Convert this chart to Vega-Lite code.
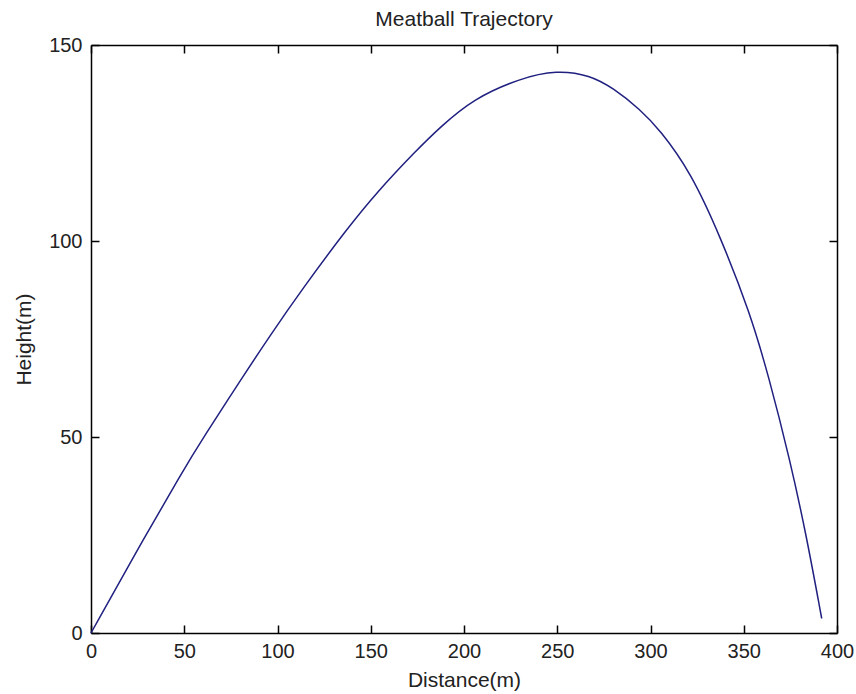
{
  "$schema": "https://vega.github.io/schema/vega-lite/v6.json",
  "width": 746,
  "height": 588,
  "autosize": {"type": "none"},
  "padding": {"left": 91, "top": 45, "right": 19, "bottom": 61},
  "background": "white",
  "title": {
    "text": "Meatball Trajectory",
    "font": "Liberation Sans",
    "fontSize": 21,
    "fontWeight": "normal",
    "color": "#222222",
    "anchor": "middle",
    "baseline": "alphabetic",
    "offset": -12
  },
  "data": {
    "values": [
      {"distance": 0, "height": 0},
      {"distance": 22.7, "height": 19.4},
      {"distance": 49.5, "height": 41.6},
      {"distance": 60.2, "height": 49.8},
      {"distance": 79.9, "height": 64.3},
      {"distance": 96, "height": 75.9},
      {"distance": 113.8, "height": 88.1},
      {"distance": 137.1, "height": 103.0},
      {"distance": 153.2, "height": 112.4},
      {"distance": 174.6, "height": 123.2},
      {"distance": 187.1, "height": 129.0},
      {"distance": 205, "height": 136.3},
      {"distance": 230, "height": 141.5},
      {"distance": 249.7, "height": 143.6},
      {"distance": 267.6, "height": 142.3},
      {"distance": 280, "height": 139.0},
      {"distance": 294.4, "height": 133.6},
      {"distance": 305.1, "height": 128.3},
      {"distance": 321.5, "height": 117.6},
      {"distance": 337.3, "height": 101.3},
      {"distance": 353.4, "height": 81.6},
      {"distance": 363.2, "height": 65.8},
      {"distance": 374.8, "height": 44.1},
      {"distance": 383.7, "height": 24.6},
      {"distance": 391.8, "height": 3.7}
    ]
  },
  "config": {
    "view": {"stroke": null},
    "axis": {
      "grid": false,
      "domainColor": "#000000",
      "domainWidth": 1.5,
      "tickColor": "#000000",
      "tickWidth": 1.5,
      "tickSize": -8,
      "labelFont": "Liberation Sans",
      "labelFontSize": 20,
      "labelColor": "#222222",
      "titleFont": "Liberation Sans",
      "titleFontSize": 21,
      "titleFontWeight": "normal",
      "titleColor": "#222222",
      "labelFlush": false,
      "labelOverlap": false
    }
  },
  "layer": [
    {
      "mark": {"type": "line", "color": "#202080", "strokeWidth": 1.5, "interpolate": "basis"},
      "encoding": {
        "x": {
          "field": "distance",
          "type": "quantitative",
          "scale": {"domain": [0, 400], "nice": false, "zero": false},
          "axis": {
            "orient": "bottom",
            "title": "Distance(m)",
            "values": [0, 50, 100, 150, 200, 250, 300, 350, 400],
            "labelPadding": 16.5,
            "titlePadding": 8
          }
        },
        "y": {
          "field": "height",
          "type": "quantitative",
          "scale": {"domain": [0, 150], "nice": false, "zero": false},
          "axis": {
            "orient": "left",
            "title": "Height(m)",
            "values": [0, 50, 100, 150],
            "labelPadding": 17,
            "titlePadding": 14
          }
        }
      }
    },
    {
      "mark": {"type": "line", "opacity": 0},
      "encoding": {
        "x": {
          "field": "distance",
          "type": "quantitative",
          "scale": {"domain": [0, 400], "nice": false, "zero": false},
          "axis": {
            "orient": "top",
            "title": null,
            "labels": false,
            "values": [0, 50, 100, 150, 200, 250, 300, 350, 400]
          }
        },
        "y": {
          "field": "height",
          "type": "quantitative",
          "scale": {"domain": [0, 150], "nice": false, "zero": false},
          "axis": {
            "orient": "right",
            "title": null,
            "labels": false,
            "values": [0, 50, 100, 150]
          }
        }
      }
    }
  ],
  "resolve": {"axis": {"x": "independent", "y": "independent"}}
}
